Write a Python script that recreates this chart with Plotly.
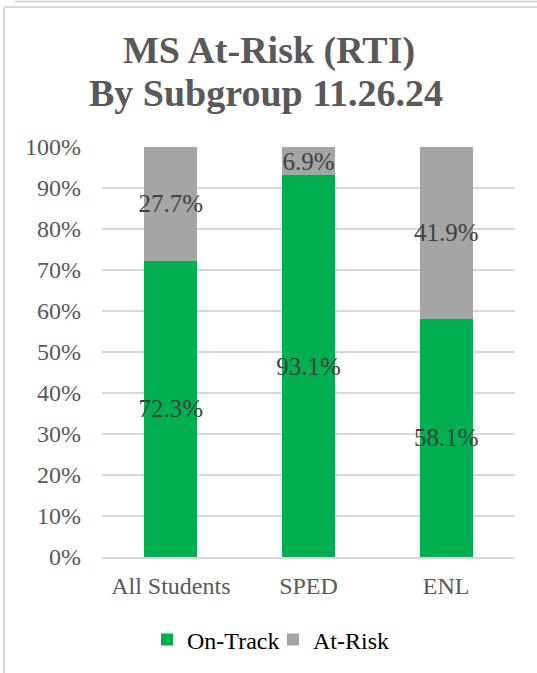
import plotly.graph_objects as go

categories = ["All Students", "SPED", "ENL"]
on_track = [72.3, 93.1, 58.1]
at_risk = [27.7, 6.9, 41.9]
y_ticks = [0, 10, 20, 30, 40, 50, 60, 70, 80, 90, 100]
y_tick_labels = [f"{v}%" for v in y_ticks]
title_lines = ["MS At-Risk (RTI)", "By Subgroup 11.26.24"]

FONT = "Liberation Serif"
W, H = 537, 673
L, R, T, B = 102, 22, 147, 116
PW, PH = W - L - R, H - T - B

def px_x(p):
    return (p - L) / PW

def px_y(p):
    return (H - B - p) / PH

fig = go.Figure()
fig.add_trace(go.Bar(
    x=categories, y=on_track, name="On-Track",
    marker=dict(color="#00B050", line=dict(width=0)),
    text=[f"{v:.1f}%" for v in on_track], textposition="inside",
    insidetextanchor="middle", textangle=0, constraintext="none",
    textfont=dict(family=FONT, size=25, color="#404040"),
))
fig.add_trace(go.Bar(
    x=categories, y=at_risk, name="At-Risk",
    marker=dict(color="#A5A5A5", line=dict(width=0)),
    text=[f"{v:.1f}%" for v in at_risk], textposition="inside",
    insidetextanchor="middle", textangle=0, constraintext="none",
    textfont=dict(family=FONT, size=25, color="#404040"),
))

annotations = [
    dict(text=f"<b>{title_lines[0]}</b>", xref="paper", yref="paper",
         x=px_x(269), y=px_y(50), xanchor="center", yanchor="middle",
         showarrow=False, font=dict(family=FONT, size=38, color="#595959")),
    dict(text=f"<b>{title_lines[1]}</b>", xref="paper", yref="paper",
         x=px_x(266), y=px_y(93), xanchor="center", yanchor="middle",
         showarrow=False, font=dict(family=FONT, size=38, color="#595959")),
]

fig.update_layout(
    width=W, height=H,
    barmode="stack", bargap=0.615,
    uniformtext=dict(minsize=24, mode="show"),
    paper_bgcolor="white", plot_bgcolor="white",
    margin=dict(l=L, r=R, t=T, b=B, pad=0, autoexpand=False),
    annotations=annotations,
    showlegend=True,
    legend=dict(
        orientation="h", x=px_x(273), xanchor="center",
        y=px_y(640), yanchor="middle",
        font=dict(family=FONT, size=24, color="#000000"),
        itemsizing="constant", itemwidth=30, traceorder="normal",
        entrywidth=81, entrywidthmode="pixels",
        bgcolor="rgba(0,0,0,0)",
    ),
    xaxis=dict(
        showline=True, linecolor="#D9D9D9", linewidth=1.5,
        ticks="", tickangle=0, automargin=False,
        tickfont=dict(family=FONT, size=24, color="#595959"),
        ticklabelstandoff=6,
    ),
    yaxis=dict(
        range=[0, 100], tickvals=y_ticks, ticktext=y_tick_labels,
        showgrid=True, gridcolor="#D9D9D9", gridwidth=1.5,
        zeroline=False, showline=False, ticks="", automargin=False,
        tickfont=dict(family=FONT, size=24, color="#595959"),
        ticklabelstandoff=20,
    ),
    shapes=[
        dict(type="line", xref="paper", yref="paper",
             x0=px_x(4), x1=px_x(4), y0=px_y(7), y1=px_y(673),
             line=dict(color="#D9D9D9", width=2)),
        dict(type="line", xref="paper", yref="paper",
             x0=px_x(4), x1=px_x(537), y0=px_y(7), y1=px_y(7),
             line=dict(color="#D9D9D9", width=2)),
        dict(type="line", xref="paper", yref="paper",
             x0=px_x(15), x1=px_x(537), y0=px_y(1.5), y1=px_y(1.5),
             line=dict(color="#D9D9D9", width=2)),
    ],
)

fig.write_html("out.html", config={"displayModeBar": False},
               post_script="document.body.style.margin='0';")
